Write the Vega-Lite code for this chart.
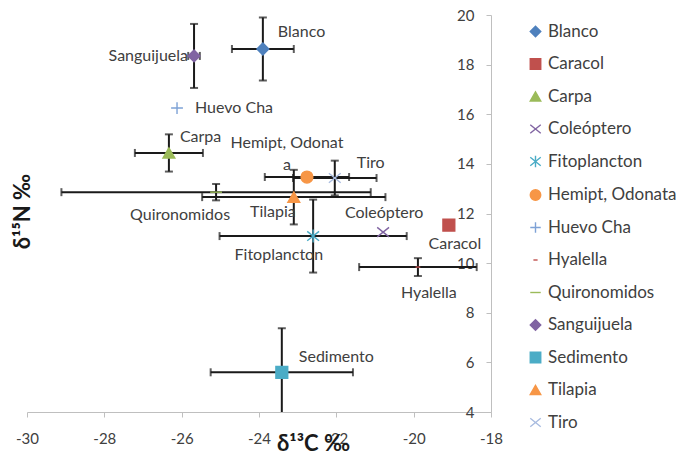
{
  "$schema": "https://vega.github.io/schema/vega-lite/v6.json",
  "width": 464,
  "height": 397,
  "autosize": "none",
  "padding": {"left": 27, "top": 15, "right": 185, "bottom": 44},
  "background": "white",
  "config": {
    "font": "Lato",
    "view": {"stroke": null},
    "axis": {"grid": false, "domainColor": "#bfbfbf", "tickColor": "#bfbfbf", "labelColor": "#404040", "labelFontSize": 15, "labelFont": "Lato", "titleFont": "Lato", "titleFontWeight": "bold", "titleFontSize": 22, "titleColor": "#1a1a1a", "labelExpr": "'' + datum.value", "labelFlush": false, "labelOverlap": false},
    "legend": {"labelFont": "Lato", "labelFontSize": 17, "labelColor": "#404040"}
  },
  "data": {
    "values": [
      {"name": "Blanco", "label": "Blanco", "x": -23.9, "y": 18.63, "xErr": 0.8, "yErr": 1.27},
      {"name": "Caracol", "label": "Caracol", "x": -19.09, "y": 11.53, "xErr": null, "yErr": null},
      {"name": "Carpa", "label": "Carpa", "x": -26.33, "y": 14.44, "xErr": 0.88, "yErr": 0.75},
      {"name": "Coleóptero", "label": "Coleóptero", "x": -20.79, "y": 11.25, "xErr": null, "yErr": null},
      {"name": "Fitoplancton", "label": "Fitoplancton", "x": -22.6, "y": 11.09, "xErr": 2.42, "yErr": 1.47},
      {"name": "Hemipt, Odonata", "label": "Hemipt, Odonat\na", "x": -22.76, "y": 13.47, "xErr": 1.09, "yErr": null},
      {"name": "Huevo Cha", "label": "Huevo Cha", "x": -26.12, "y": 16.25, "xErr": null, "yErr": null},
      {"name": "Hyalella", "label": "Hyalella", "x": -19.89, "y": 9.84, "xErr": 1.52, "yErr": 0.36},
      {"name": "Quironomidos", "label": "Quironomidos", "x": -25.11, "y": 12.86, "xErr": 4.0, "yErr": 0.33},
      {"name": "Sanguijuela", "label": "Sanguijuela", "x": -25.68, "y": 18.35, "xErr": 0.15, "yErr": 1.29},
      {"name": "Sedimento", "label": "Sedimento", "x": -23.41, "y": 5.6, "xErr": 1.84, "yErr": 1.78},
      {"name": "Tilapia", "label": "Tilapia", "x": -23.1, "y": 12.66, "xErr": 2.37, "yErr": 1.1},
      {"name": "Tiro", "label": "Tiro", "x": -22.04, "y": 13.43, "xErr": 1.08, "yErr": 0.7}
    ]
  },
  "encoding": {
    "x": {"field": "x", "type": "quantitative", "scale": {"domain": [-30, -18], "nice": false, "zero": false},
      "axis": {"values": [-30, -28, -26, -24, -22, -20, -18], "tickSize": 5, "labelPadding": 14, "title": "δ¹³C ‰", "titleX": 286, "titleY": 31, "titleBaseline": "middle", "titleAlign": "center", "titleAnchor": null}},
    "y": {"field": "y", "type": "quantitative", "scale": {"domain": [4, 20], "nice": false, "zero": false},
      "axis": {"orient": "left", "offset": -464, "values": [4, 6, 8, 10, 12, 14, 16, 18, 20], "tickSize": 5, "labelPadding": 12, "title": "δ¹⁵N ‰", "titleX": -469, "titleY": 196, "titleBaseline": "middle", "titleAlign": "center", "titleAngle": -90}}
  },
  "layer": [
    {
      "transform": [{"filter": "datum.xErr != null"}],
      "mark": {"type": "errorbar", "ticks": {"size": 8}, "color": "#1a1a1a", "thickness": 2, "clip": true},
      "encoding": {
        "x": {"field": "x", "type": "quantitative"},
        "xError": {"field": "xErr"},
        "y": {"field": "y", "type": "quantitative"}
      }
    },
    {
      "transform": [{"filter": "datum.yErr != null"}],
      "mark": {"type": "errorbar", "ticks": {"size": 8}, "color": "#1a1a1a", "thickness": 2, "clip": true},
      "encoding": {
        "y": {"field": "y", "type": "quantitative"},
        "yError": {"field": "yErr"},
        "x": {"field": "x", "type": "quantitative"}
      }
    },
    {
      "mark": {"type": "point", "filled": true, "size": 140, "strokeWidth": 1.4, "opacity": 1},
      "encoding": {
        "shape": {"field": "name", "type": "nominal",
          "scale": {"domain": ["Blanco", "Caracol", "Carpa", "Coleóptero", "Fitoplancton", "Hemipt, Odonata", "Huevo Cha", "Hyalella", "Quironomidos", "Sanguijuela", "Sedimento", "Tilapia", "Tiro"],
            "range": ["diamond", "square", "triangle-up", "M-1,-0.8L1,0.8M1,-0.8L-1,0.8", "M-1,-0.8L1,0.8M1,-0.8L-1,0.8M0,-1.1L0,1.1", "circle", "M-1,0L1,0M0,-1L0,1", "M-0.4,0L0.4,0", "M-1,0L1,0", "diamond", "square", "triangle-up", "M-1,-0.8L1,0.8M1,-0.8L-1,0.8"]},
          "legend": {"title": null, "orient": "none", "legendX": 500, "legendY": 8, "rowPadding": 14.5, "symbolStrokeWidth": 1.4, "symbolSize": 110}},
        "fill": {"field": "name", "type": "nominal",
          "scale": {"domain": ["Blanco", "Caracol", "Carpa", "Coleóptero", "Fitoplancton", "Hemipt, Odonata", "Huevo Cha", "Hyalella", "Quironomidos", "Sanguijuela", "Sedimento", "Tilapia", "Tiro"],
            "range": ["#4F81BD", "#C0504D", "#9BBB59", "#8064A2", "#4BACC6", "#F79646", "#7EA2D6", "#C0504D", "#9BBB59", "#8064A2", "#4BACC6", "#F79646", "#A9BCE0"]},
          "legend": {"title": null}},
        "stroke": {"field": "name", "type": "nominal",
          "scale": {"domain": ["Blanco", "Caracol", "Carpa", "Coleóptero", "Fitoplancton", "Hemipt, Odonata", "Huevo Cha", "Hyalella", "Quironomidos", "Sanguijuela", "Sedimento", "Tilapia", "Tiro"],
            "range": ["#4F81BD", "#C0504D", "#9BBB59", "#8064A2", "#4BACC6", "#F79646", "#7EA2D6", "#C0504D", "#9BBB59", "#8064A2", "#4BACC6", "#F79646", "#A9BCE0"]},
          "legend": {"title": null}}
      }
    },
    {"transform": [{"filter": "datum.name == 'Blanco'"}], "mark": {"type": "text", "align": "left", "baseline": "middle", "dx": 15, "dy": -17, "fontSize": 16, "color": "#404040"}, "encoding": {"text": {"field": "label"}}},
    {"transform": [{"filter": "datum.name == 'Huevo Cha'"}], "mark": {"type": "text", "align": "left", "baseline": "middle", "dx": 18, "dy": 0, "fontSize": 16, "color": "#404040"}, "encoding": {"text": {"field": "label"}}},
    {"transform": [{"filter": "datum.name == 'Carpa'"}], "mark": {"type": "text", "align": "left", "baseline": "middle", "dx": 11, "dy": -16, "fontSize": 16, "color": "#404040"}, "encoding": {"text": {"field": "label"}}},
    {"transform": [{"filter": "datum.name == 'Tiro'"}], "mark": {"type": "text", "align": "left", "baseline": "middle", "dx": 22, "dy": -15, "fontSize": 16, "color": "#404040"}, "encoding": {"text": {"field": "label"}}},
    {"transform": [{"filter": "datum.name == 'Sedimento'"}], "mark": {"type": "text", "align": "left", "baseline": "middle", "dx": 17, "dy": -15, "fontSize": 16, "color": "#404040"}, "encoding": {"text": {"field": "label"}}},
    {"transform": [{"filter": "datum.name == 'Sanguijuela'"}], "mark": {"type": "text", "align": "right", "baseline": "middle", "dx": -6, "dy": 0, "fontSize": 16, "color": "#404040"}, "encoding": {"text": {"field": "label"}}},
    {"transform": [{"filter": "datum.name == 'Quironomidos'"}], "mark": {"type": "text", "align": "right", "baseline": "middle", "dx": 14, "dy": 23, "fontSize": 16, "color": "#404040"}, "encoding": {"text": {"field": "label"}}},
    {"transform": [{"filter": "datum.name == 'Tilapia'"}], "mark": {"type": "text", "align": "right", "baseline": "middle", "dx": 2, "dy": 15, "fontSize": 16, "color": "#404040"}, "encoding": {"text": {"field": "label"}}},
    {"transform": [{"filter": "datum.name == 'Fitoplancton'"}], "mark": {"type": "text", "align": "right", "baseline": "middle", "dx": 10, "dy": 19, "fontSize": 16, "color": "#404040"}, "encoding": {"text": {"field": "label"}}},
    {"transform": [{"filter": "datum.name == 'Hemipt, Odonata'"}], "mark": {"type": "text", "align": "center", "baseline": "middle", "dx": -20, "dy": -34, "fontSize": 16, "color": "#404040", "lineBreak": "\n", "lineHeight": 22}, "encoding": {"text": {"field": "label"}}},
    {"transform": [{"filter": "datum.name == 'Coleóptero'"}], "mark": {"type": "text", "align": "center", "baseline": "middle", "dx": 1, "dy": -19, "fontSize": 16, "color": "#404040"}, "encoding": {"text": {"field": "label"}}},
    {"transform": [{"filter": "datum.name == 'Caracol'"}], "mark": {"type": "text", "align": "center", "baseline": "middle", "dx": 6, "dy": 19, "fontSize": 16, "color": "#404040"}, "encoding": {"text": {"field": "label"}}},
    {"transform": [{"filter": "datum.name == 'Hyalella'"}], "mark": {"type": "text", "align": "center", "baseline": "middle", "dx": 11, "dy": 26, "fontSize": 16, "color": "#404040"}, "encoding": {"text": {"field": "label"}}}
  ]
}
